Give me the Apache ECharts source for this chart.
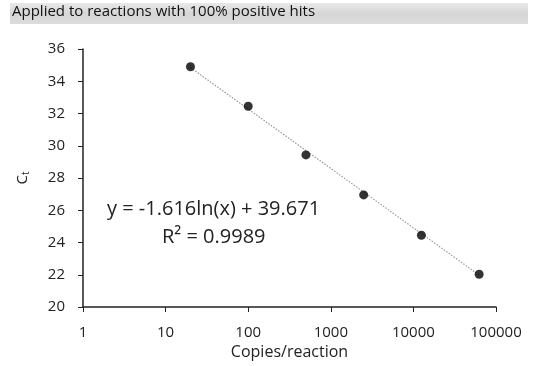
<!DOCTYPE html>
<html>
<head>
<meta charset="utf-8">
<script src="https://cdn.jsdelivr.net/npm/echarts@6/dist/echarts.min.js"></script>
<style>
  html, body { margin: 0; padding: 0; background: #fff; }
  #chart { width: 535px; height: 366px; }
</style>
</head>
<body>
<div id="chart"></div>
<script>
// copies per reaction and measured Ct
const copies = [20, 100, 500, 2500, 12500, 62500];
const ctValues = [34.9, 32.45, 29.43, 26.95, 24.45, 22.03];
// logarithmic trendline at both ends
const trendX = [20, 62500];
const trendY = [34.85, 21.98];
const xTicks = [1, 10, 100, 1000, 10000, 100000];
const yTicks = [20, 22, 24, 26, 28, 30, 32, 34, 36];

const chart = echarts.init(document.getElementById("chart"));
const font = "Open Sans";

const option = {
  animation: false,
  backgroundColor: "#fff",
  textStyle: { fontFamily: font },
  grid: { left: 83, right: 39, top: 49, bottom: 59 },
  graphic: [
    {
      type: "rect",
      shape: { x: 10, y: 3, width: 518, height: 21 },
      style: {
        fill: new echarts.graphic.LinearGradient(0, 0, 0, 1, [
          { offset: 0, color: "#e8e8e8" },
          { offset: 0.5, color: "#d6d6d6" },
          { offset: 1, color: "#dcdcdc" }
        ])
      }
    },
    {
      type: "text",
      left: 12,
      top: 4,
      style: {
        text: "Applied to reactions with 100% positive hits",
        fontFamily: font,
        fontSize: 15,
        fill: "#111"
      }
    },
    {
      type: "text",
      left: 107,
      top: 199,
      style: {
        text: "y = -1.616ln(x) + 39.671",
        fontFamily: font,
        fontSize: 20,
        fill: "#222"
      }
    },
    {
      type: "text",
      left: 162,
      top: 227,
      style: {
        text: "R² = 0.9989",
        fontFamily: font,
        fontSize: 20,
        fill: "#222"
      }
    }
  ],
  xAxis: {
    type: "log",
    logBase: 10,
    min: xTicks[0],
    max: xTicks[xTicks.length - 1],
    name: "Copies/reaction",
    nameLocation: "middle",
    nameGap: 37,
    nameTextStyle: { fontFamily: font, fontSize: 16, color: "#222" },
    axisLine: { lineStyle: { color: "#222", width: 1.5 } },
    axisTick: { show: true, inside: false, length: 5, lineStyle: { color: "#222" } },
    axisLabel: {
      fontFamily: font,
      fontSize: 15,
      color: "#222",
      margin: 18,
      formatter: (v) => String(Math.round(v))
    },
    splitLine: { show: false },
    minorTick: { show: false }
  },
  yAxis: {
    type: "value",
    min: yTicks[0],
    max: yTicks[yTicks.length - 1],
    interval: 2,
    name: "{c|C}{t|t}",
    nameLocation: "middle",
    nameGap: 52,
    nameRotate: 90,
    nameTextStyle: {
      rich: {
        c: { fontFamily: font, fontSize: 15, color: "#222" },
        t: { fontFamily: font, fontSize: 10, color: "#222", verticalAlign: "bottom", padding: [7, 0, 0, 0] }
      }
    },
    axisLine: { show: true, lineStyle: { color: "#222", width: 1.5 } },
    axisTick: { show: true, inside: false, length: 5, lineStyle: { color: "#222" } },
    axisLabel: { fontFamily: font, fontSize: 15, color: "#222", margin: 18 },
    splitLine: { show: false }
  },
  series: [
    {
      name: "trend",
      type: "line",
      data: trendX.map((x, i) => [x, trendY[i]]),
      symbol: "none",
      lineStyle: { color: "#9a9a9a", width: 1.2, type: [1.5, 1.5] },
      z: 1
    },
    {
      name: "Ct",
      type: "scatter",
      data: copies.map((x, i) => [x, ctValues[i]]),
      symbol: "circle",
      symbolSize: 9,
      itemStyle: { color: "#000" },
      z: 2
    }
  ]
};

chart.setOption(option);
</script>
</body>
</html>
